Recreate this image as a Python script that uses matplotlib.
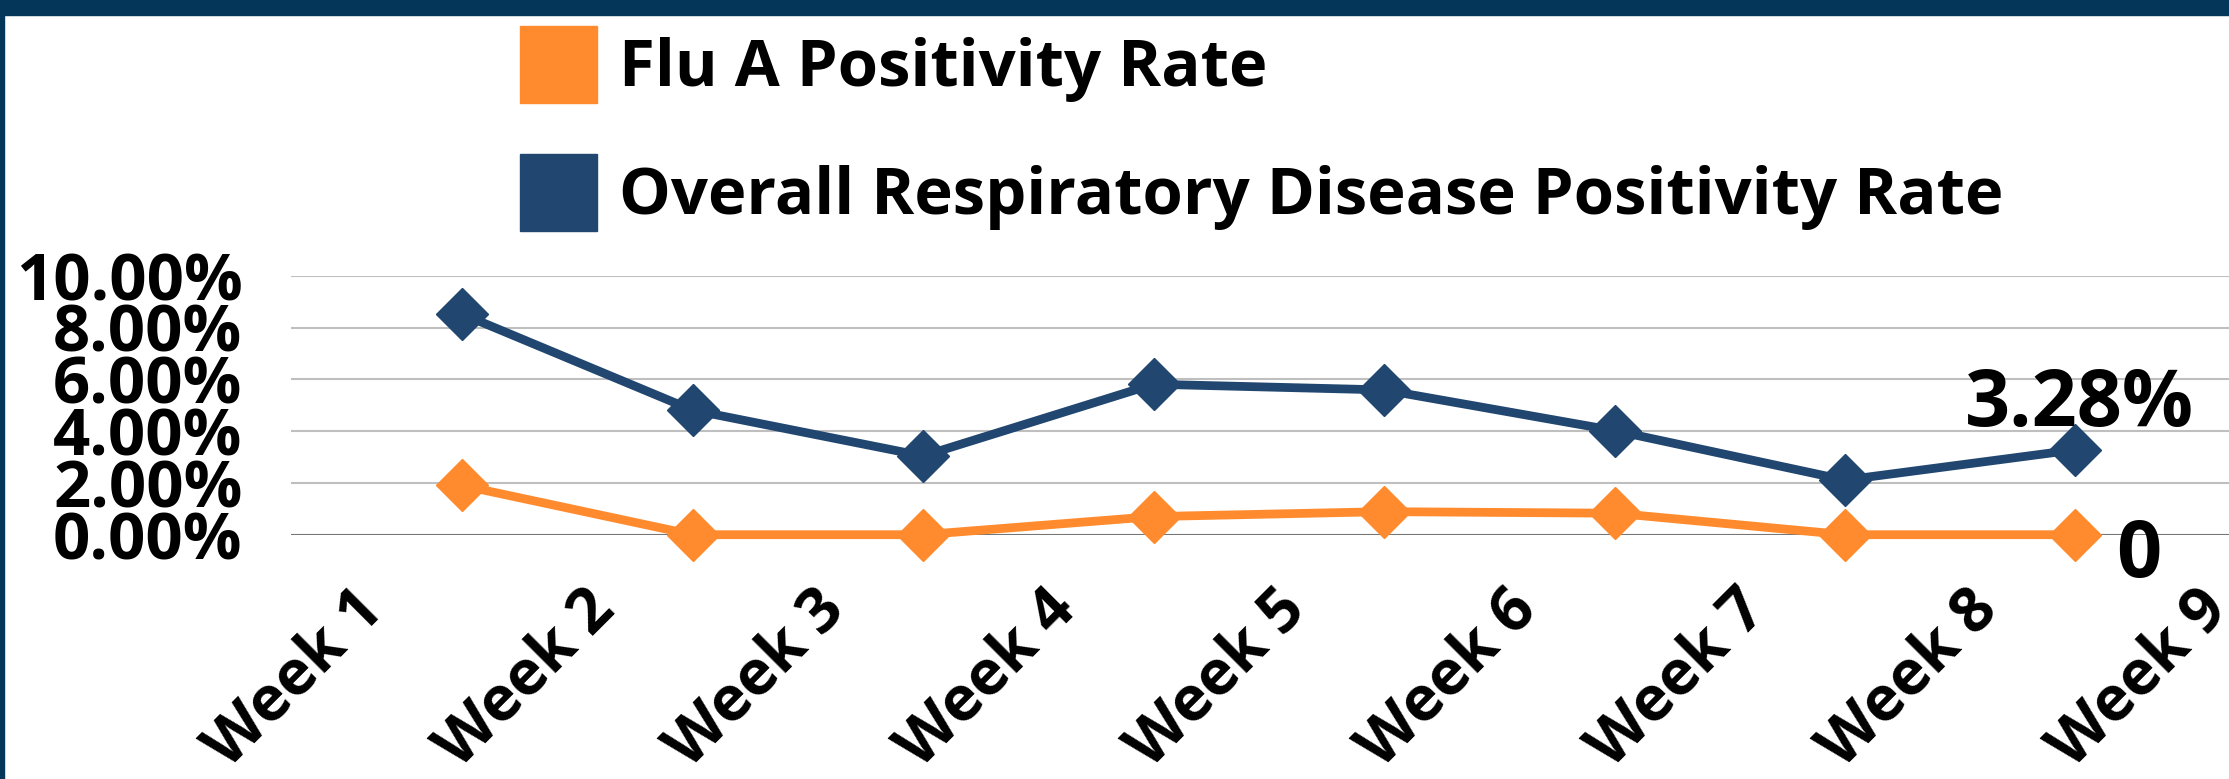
import numpy as np
import matplotlib
matplotlib.use('Agg')
import matplotlib.pyplot as plt
from matplotlib.patches import Patch, Rectangle
from matplotlib.ticker import FuncFormatter

# DATA (percent values)
weeks = ['Week 1', 'Week 2', 'Week 3', 'Week 4', 'Week 5',
         'Week 6', 'Week 7', 'Week 8', 'Week 9']
flu_a = [1.90, 0.0, 0.0, 0.70, 0.89, 0.83, 0.0, 0.0]
overall = [8.52, 4.81, 3.04, 5.81, 5.59, 4.02, 2.11, 3.28]
y_ticks = [0, 2, 4, 6, 8, 10]

ORANGE = '#FF8B2E'
NAVY = '#21466F'
BORDER = '#04365A'

plt.rcParams['font.family'] = ['Open Sans', 'DejaVu Sans']
plt.rcParams['font.weight'] = 'bold'

W, H = 2229, 779
fig = plt.figure(figsize=(W / 100, H / 100), dpi=100)
ax = fig.add_axes([291 / W, 1 - 534.7 / H, (W - 291) / W, 259 / H])

x = np.arange(len(overall))
ax.plot(x, flu_a, color=ORANGE, lw=6.3, marker='D', ms=26,
        zorder=3, clip_on=False, label='Flu A Positivity Rate')
ax.plot(x, overall, color=NAVY, lw=6.3, marker='D', ms=26,
        zorder=3, clip_on=False, label='Overall Respiratory Disease Positivity Rate')

# axes styling
ax.set_xlim(-0.742, 7.666)
ax.set_ylim(0, 10)
ax.set_xticks([])
ax.set_yticks(y_ticks)
ax.yaxis.set_major_formatter(FuncFormatter(lambda v, p: f'{v:.2f}%'))
ax.tick_params(axis='y', length=0, pad=35, labelsize=47)
for s in ax.spines.values():
    s.set_visible(False)
ax.grid(axis='y', color='#BFBFBF', lw=1.5)
ax.set_axisbelow(True)
ax.axhline(0, color='#767676', lw=2.2, zorder=2)

# rotated week labels
for i, w in enumerate(weeks):
    ax.annotate(w, xy=(i, 0), xycoords=('data', 'axes fraction'),
                xytext=(-110, -43), textcoords='offset pixels',
                rotation=45, rotation_mode='anchor', ha='right', va='top',
                fontsize=45, annotation_clip=False)

# data labels on the last point
ax.annotate(f'{overall[-1]:.2f}%', xy=(x[-1], overall[-1]),
            xytext=(4, 24), textcoords='offset pixels',
            ha='center', va='baseline', fontsize=57, annotation_clip=False)
ax.annotate(f'{flu_a[-1]:g}', xy=(x[-1], flu_a[-1]),
            xytext=(41, -42), textcoords='offset pixels',
            ha='left', va='baseline', fontsize=57, annotation_clip=False)

# legend with square swatches
handles = [Patch(color=ORANGE, label='Flu A Positivity Rate'),
           Patch(color=NAVY, label='Overall Respiratory Disease Positivity Rate')]
fig.legend(handles=handles, loc='upper left',
           bbox_to_anchor=(520 / W, 1 - 26 / H), bbox_transform=fig.transFigure,
           frameon=False, fontsize=47, handlelength=1.18, handleheight=1.44,
           handletextpad=0.34, labelspacing=0.78, borderpad=0, borderaxespad=0)

# navy frame on top and left
fig.add_artist(Rectangle((0, 1 - 15 / H), 1, 15 / H, transform=fig.transFigure,
                         color=BORDER, zorder=10))
fig.add_artist(Rectangle((0, 0), 4 / W, 1, transform=fig.transFigure,
                         color=BORDER, zorder=10))

fig.savefig('out.png', dpi=100)
